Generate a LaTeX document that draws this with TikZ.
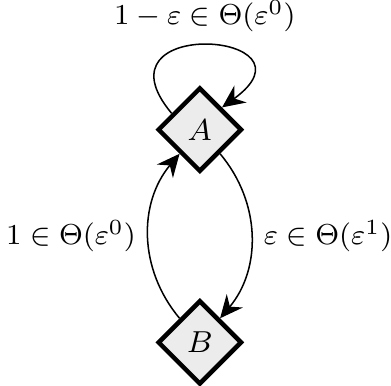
\documentclass[tikz,border=0pt]{standalone}
\usetikzlibrary{shapes.geometric,arrows.meta}
\begin{document}
\begin{tikzpicture}[>={Stealth[length=6pt,width=5.5pt,inset=2pt]},
  every node/.style={font=\footnotesize},
  rate/.style={scale=0.95},
  state/.style={diamond, draw, very thick, fill=gray!15, minimum size=7.8mm, inner sep=0pt}]
  \useasboundingbox (-1.85,1.20) rectangle (1.77,-2.37);
  \node[state] (A) at (0,0) {$A$};
  \node[state] (B) at (0,-1.97) {$B$};

  \draw[->] (A.150) to[out=130, in=36, looseness=6.5] node[rate, above, inner sep=3.5pt] {$1-\varepsilon\in\Theta(\varepsilon^0)$} (A.north east);
  \draw[->] (A) to[bend left=40] node[rate, right] {$\varepsilon\in\Theta(\varepsilon^1)$} (B);
  \draw[->] (B) to[bend left=40] node[rate, left] {$1\in\Theta(\varepsilon^0)$} (A);
\end{tikzpicture}
\end{document}
